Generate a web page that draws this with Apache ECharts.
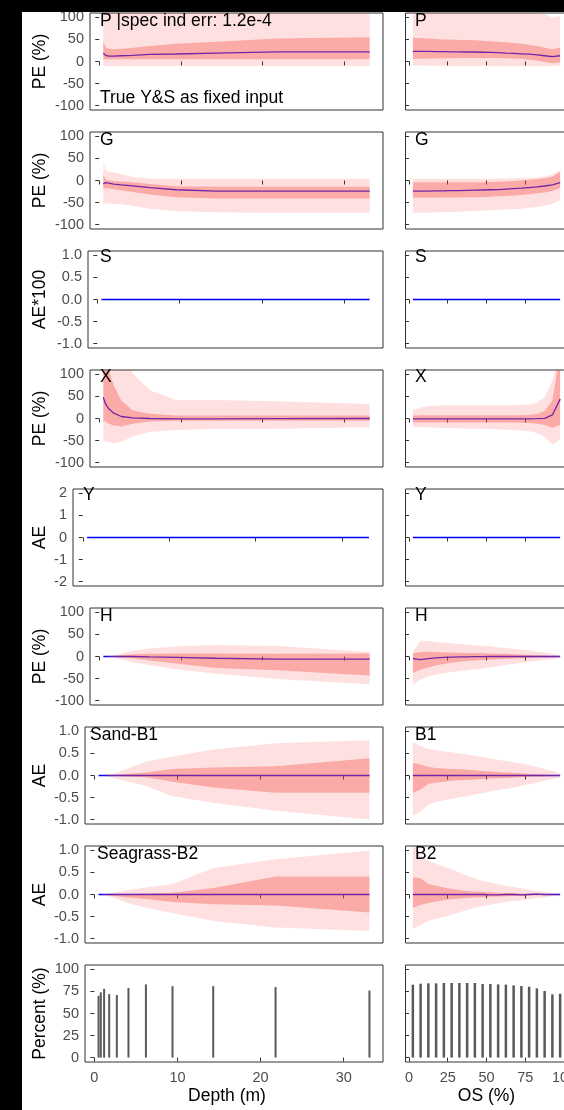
<!DOCTYPE html>
<html>
<head>
<meta charset="utf-8">
<script src="https://cdn.jsdelivr.net/npm/echarts@6.0.0/dist/echarts.min.js"></script>
<style>
html, body { margin: 0; padding: 0; background: #000; }
#main { position: absolute; left: 22px; top: 12px; width: 542px; height: 1098px; background: #fff; }
</style>
</head>
<body>
<div id="main"></div>
<script>
// x positions
var depth = [0.5, 0.77, 1.17, 1.78, 2.7, 4.1, 6.2, 9.4, 14.3, 21.8, 33.1];
var os = [2.5, 7.5, 12.5, 17.5, 22.5, 27.5, 32.5, 37.5, 42.5, 47.5, 52.5, 57.5, 62.5, 67.5, 72.5, 77.5, 82.5, 87.5, 92.5, 97.5];

// P
var pDMean = [19, 14, 12, 12, 13, 14, 16, 17, 19, 22, 22];
var pDLo50 = [6, 5, 5, 5, 5, 5, 5, 5, 5, 5, 5];
var pDHi50 = [47, 33, 29, 28, 29, 31, 35, 40, 45, 52, 55];
var pDLo95 = [-9, -10, -10, -10, -10, -10, -10, -10, -10, -10, -10];
var pDHi95 = [150, 150, 150, 150, 150, 150, 150, 150, 150, 150, 150];
var pOMean = [23, 23, 23, 22.5, 22.5, 22, 22, 21.5, 21.5, 21, 20.5, 20, 19, 18.5, 17.5, 16.5, 15, 13, 11, 13];
var pOLo50 = [6, 6.5, 7, 7, 7.5, 7.5, 8, 8, 8, 8, 8, 8, 7.5, 7, 6, 4, 2, -1, -4, -2];
var pOHi50 = [54, 53, 52, 51, 50, 50, 49, 48.5, 48, 47, 46, 45, 43.5, 42, 40, 38, 35, 31, 28, 32];
var pOLo95 = [-9, -9, -9.5, -9.5, -10, -10, -10, -10, -10, -10, -10.5, -10.5, -11, -11, -11, -11, -11, -11, -10, -9];
var pOHi95 = [130, 130, 130, 128, 127, 126, 125, 124, 123, 122, 120, 118, 116, 114, 112, 111, 110, 108, 99, 104];

// G
var gDMean = [-7.5, -5, -6, -8, -10, -12, -16, -21, -24, -24, -24];
var gDLo50 = [-21, -17, -18, -20, -22, -26, -32, -38, -41, -41, -41];
var gDHi50 = [15, 2, 0, -1, -2, -4, -8, -13, -14, -14, -14];
var gDLo95 = [-55, -52, -52, -53, -54, -57, -64, -70, -72, -73, -73];
var gDHi95 = [45, 23, 19, 18, 15, 8, 4, 4, 4, 4, 4];
var gOMean = [-24, -24, -24, -23.5, -23.5, -23, -23, -22.5, -22, -21.5, -21, -20.5, -19.5, -18.5, -17.5, -16, -14.5, -12.5, -10, -5];
var gOLo50 = [-39, -39, -39, -39, -38.5, -38.5, -38.5, -38, -38, -38, -37, -36, -35, -34, -33, -31, -29, -27, -24, -17];
var gOHi50 = [-4, -4, -4, -4, -4, -4, -4, -4, -4, -4, -3.5, -3, -2, -1, 0, 1.5, 3, 5, 9, 19];
var gOLo95 = [-73, -73, -72.5, -72, -72, -71.5, -71, -70, -69, -68, -67.5, -67, -66, -65, -64, -62, -60, -57, -53, -45];
var gOHi95 = [4, 4, 4, 4, 4, 4, 4, 4, 4, 4, 4, 4.5, 4.5, 5, 5, 6, 7, 9, 13, 23];

// S
var sDMean = [0, 0, 0, 0, 0, 0, 0, 0, 0, 0, 0];
var sOMean = [0, 0, 0, 0, 0, 0, 0, 0, 0, 0, 0, 0, 0, 0, 0, 0, 0, 0, 0, 0];

// X
var xDMean = [48, 33, 22, 12, 4.5, 1.5, 0, -1, -1, -0.5, 0];
var xDLo50 = [-7, -7, -12, -16, -18, -12, -7, -5, -5, -5, -5];
var xDHi50 = [150, 150, 110, 75, 41, 18, 10.6, 7, 7, 7, 7];
var xDLo95 = [-53, -52, -53, -56, -53, -41, -30, -26, -24, -23, -20];
var xDHi95 = [200, 200, 200, 200, 160, 102, 64, 42, 42, 39, 33];
var xOMean = [-1, -1, -1, -1, -1, -1, -1, -1, -1, -1, -1, -1, -1, -1, -1, -1, -0.5, 0.5, 8, 44];
var xOLo50 = [-9, -9, -9, -9, -9, -9, -9, -9, -9, -9, -9, -9, -9, -9, -9.5, -10, -12, -15, -21, -15];
var xOHi50 = [7, 7.5, 7.5, 7.5, 7.5, 7.5, 7.5, 7.5, 7.5, 7.5, 7.5, 7.5, 7.5, 7.5, 7.5, 8, 10, 17, 41, 150];
var xOLo95 = [-19, -20, -20.5, -21, -21, -21.5, -22, -22.5, -23, -23.5, -24, -25, -25.5, -26, -27, -29, -33, -42, -59, -48];
var xOHi95 = [19, 25, 28, 29, 30, 30, 30, 30, 30, 30, 30, 30, 30, 30, 31, 32, 36, 48, 86, 150];

// Y
var yDMean = [0, 0, 0, 0, 0, 0, 0, 0, 0, 0, 0];
var yOMean = [0, 0, 0, 0, 0, 0, 0, 0, 0, 0, 0, 0, 0, 0, 0, 0, 0, 0, 0, 0];

// H
var hDMean = [0, 0, 0, 0, 0, 0, -1, -2, -4, -6, -6];
var hDLo50 = [0, 0, -0.5, -1, -2, -4, -9, -16, -26, -31, -43];
var hDHi50 = [0, 0, 0.5, 1, 3, 5, 6, 7, 7, 6, 7];
var hDLo95 = [0, 0, -1, -3, -7, -13, -20, -29, -39, -51, -63];
var hDHi95 = [0, 0, 1, 3, 7, 13, 18, 23, 26, 24, 10];
var hOMean = [-5, -7, -5, -3, -2, -1.5, -1, -1, -0.5, -0.5, 0, 0, 0, 0, 0, 0, 0, 0, 0, 0];
var hOLo50 = [-37, -30, -25, -20, -17, -14, -12, -10, -9, -8, -7, -6, -5, -4.5, -4, -3, -2.5, -2, -1.5, -1];
var hOHi50 = [7, 10, 11, 10, 9, 9, 8.5, 8, 8, 7.5, 7, 6.5, 6, 5, 4.5, 4, 3, 2.5, 1.5, 1];
var hOLo95 = [-64, -52, -45, -41, -38, -35, -33, -31, -29, -27, -25, -22, -19, -17, -14, -12, -10, -8, -6, -4];
var hOHi95 = [11, 36, 35, 33, 31, 30, 28, 27, 25, 24, 23, 21, 19, 17, 16, 14, 11, 9, 6, 3];

// B1
var b1DMean = [0, 0, 0, 0, 0, 0, 0, 0, 0, 0, 0];
var b1DLo50 = [0, 0, 0, -0.01, -0.01, -0.02, -0.04, -0.14, -0.27, -0.39, -0.39];
var b1DHi50 = [0, 0, 0, 0.01, 0.01, 0.04, 0.07, 0.15, 0.18, 0.21, 0.39];
var b1DLo95 = [0, 0, -0.01, -0.03, -0.08, -0.14, -0.24, -0.47, -0.62, -0.8, -1.0];
var b1DHi95 = [0, 0, 0.01, 0.03, 0.06, 0.17, 0.31, 0.43, 0.59, 0.73, 0.8];
var b1OMean = [0, 0, 0, 0, 0, 0, 0, 0, 0, 0, 0, 0, 0, 0, 0, 0, 0, 0, 0, 0];
var b1OLo50 = [-0.39, -0.32, -0.19, -0.16, -0.14, -0.12, -0.11, -0.1, -0.09, -0.08, -0.07, -0.06, -0.055, -0.05, -0.04, -0.03, -0.025, -0.02, -0.01, -0.01];
var b1OHi50 = [0.29, 0.25, 0.19, 0.17, 0.16, 0.15, 0.14, 0.13, 0.12, 0.1, 0.09, 0.08, 0.07, 0.06, 0.05, 0.04, 0.03, 0.02, 0.01, 0.01];
var b1OLo95 = [-0.92, -0.81, -0.66, -0.6, -0.56, -0.53, -0.5, -0.47, -0.43, -0.4, -0.36, -0.33, -0.3, -0.27, -0.24, -0.2, -0.16, -0.12, -0.08, -0.05];
var b1OHi95 = [0.76, 0.67, 0.6, 0.57, 0.55, 0.53, 0.5, 0.48, 0.45, 0.42, 0.39, 0.36, 0.33, 0.3, 0.28, 0.24, 0.2, 0.15, 0.1, 0.04];

// B2
var b2DMean = [0, 0, 0, 0, 0, 0, 0, 0, 0, 0, 0];
var b2DLo50 = [0, 0, -0.01, -0.02, -0.04, -0.07, -0.1, -0.17, -0.22, -0.25, -0.41];
var b2DHi50 = [0, 0, 0, 0.005, 0.01, 0.01, 0.02, 0.04, 0.15, 0.41, 0.41];
var b2DLo95 = [0, -0.01, -0.02, -0.04, -0.1, -0.2, -0.3, -0.42, -0.6, -0.75, -0.83];
var b2DHi95 = [0, 0, 0.01, 0.02, 0.05, 0.1, 0.16, 0.24, 0.6, 0.8, 1.0];
var b2OMean = [0, 0, 0, 0, 0, 0, 0, 0, 0, 0, -0.01, -0.01, 0, 0, -0.01, 0, 0.01, 0, 0, 0];
var b2OLo50 = [-0.3, -0.24, -0.19, -0.16, -0.13, -0.11, -0.09, -0.08, -0.07, -0.06, -0.05, -0.045, -0.04, -0.035, -0.03, -0.025, -0.02, -0.015, -0.01, -0.01];
var b2OHi50 = [0.39, 0.37, 0.24, 0.2, 0.16, 0.13, 0.1, 0.08, 0.07, 0.06, 0.05, 0.04, 0.035, 0.03, 0.025, 0.02, 0.015, 0.01, 0.005, 0];
var b2OLo95 = [-0.79, -0.69, -0.6, -0.55, -0.51, -0.46, -0.4, -0.35, -0.3, -0.26, -0.23, -0.2, -0.17, -0.15, -0.13, -0.1, -0.08, -0.06, -0.04, -0.02];
var b2OHi95 = [1.15, 0.9, 0.76, 0.7, 0.63, 0.57, 0.5, 0.43, 0.37, 0.31, 0.27, 0.24, 0.2, 0.17, 0.14, 0.11, 0.08, 0.06, 0.04, 0.02];

// Percent of samples
var depthPct = [70, 74, 78, 72, 71, 79, 83, 81, 81, 80, 76];
var osPct = [82.7, 83.8, 84.2, 84.2, 84.6, 84.6, 84.6, 84.6, 84.6, 83.4, 83.4, 83.0, 82.7, 81.9, 81.2, 80.4, 78.5, 75.5, 71.7, 72.4];

// tick labels
var peTicks = [-100, -50, 0, 50, 100];
var aeTicks = [-1, -0.5, 0, 0.5, 1];
var yTicks = [-2, -1, 0, 1, 2];
var pctTicks = [0, 25, 50, 75, 100];
var depthTicks = [0, 10, 20, 30];
var osTicks = [0, 25, 50, 75, 100];

var rowTitles = ['PE (%)', 'PE (%)', 'AE*100', 'PE (%)', 'AE', 'PE (%)', 'AE', 'AE', 'Percent (%)'];
var leftNames = ['P |spec ind err: 1.2e-4', 'G', 'S', 'X', 'Y', 'H', 'Sand-B1', 'Seagrass-B2'];
var rightNames = ['P', 'G', 'S', 'X', 'Y', 'H', 'B1', 'B2'];

// layout
var FONT = 'Liberation Sans';
var BORDER = '#333333';
var LIGHT = 'rgba(255, 0, 0, 0.12)';
var DARK = 'rgba(245, 90, 80, 0.4)';
var LINE = '#0000ff';
var rowLeft = [90, 90, 88, 90, 73, 90, 85, 85, 85];
var rowY = [
    {min: -110, max: 110, ticks: peTicks, dec: 0},
    {min: -110, max: 110, ticks: peTicks, dec: 0},
    {min: -1.1, max: 1.1, ticks: aeTicks, dec: 1},
    {min: -110, max: 110, ticks: peTicks, dec: 0},
    {min: -2.2, max: 2.2, ticks: yTicks, dec: 0},
    {min: -110, max: 110, ticks: peTicks, dec: 0},
    {min: -1.1, max: 1.1, ticks: aeTicks, dec: 1},
    {min: -1.1, max: 1.1, ticks: aeTicks, dec: 1},
    {min: -5, max: 105, ticks: pctTicks, dec: 0}
];
var nameDy = [8, 8, 6, 7, 6, 8, 8, 8];
var nameX = [78, 78, 78, 78, 61, 78, 68, 75];
var BOX_H = 97;
function rowTop(r) { return 1 + 119 * r; }

var grids = [], xAxes = [], yAxes = [], series = [], graphics = [];

function pairs(xs, ys) {
    return xs.map(function (x, i) { return [x, ys[i]]; });
}

function addPanel(r, c) {
    var gi = grids.length;
    var isLeft = c === 0;
    var ry = rowY[r];
    grids.push({
        left: isLeft ? rowLeft[r] - 22 : 383.5,
        top: rowTop(r),
        width: isLeft ? 383 - rowLeft[r] : 162,
        height: BOX_H,
        show: true,
        borderColor: BORDER,
        borderWidth: 1,
        backgroundColor: 'transparent',
        containLabel: false,
        outerBoundsMode: 'none'
    });
    xAxes.push({
        gridIndex: gi,
        type: 'value',
        min: isLeft ? -1.13 : -2.25,
        max: isLeft ? 34.73 : 102.25,
        axisLine: {show: false},
        splitLine: {show: false},
        axisTick: {show: true, length: 4, lineStyle: {color: BORDER}, customValues: isLeft ? depthTicks : osTicks},
        axisLabel: {show: r === 8, customValues: isLeft ? depthTicks : osTicks, color: '#4d4d4d', fontSize: 14.5, fontFamily: FONT, margin: 8}
    });
    yAxes.push({
        gridIndex: gi,
        type: 'value',
        min: ry.min,
        max: ry.max,
        axisLine: {show: false},
        splitLine: {show: false},
        axisTick: {show: true, length: 4, lineStyle: {color: BORDER}, customValues: ry.ticks},
        axisLabel: {
            show: isLeft,
            customValues: ry.ticks,
            color: '#4d4d4d', fontSize: 14.5, fontFamily: FONT, margin: 6,
            formatter: function (v) { return Number(v).toFixed(ry.dec); }
        }
    });
    return gi;
}

function meanLine(gi, xs, ys) {
    series.push({
        type: 'line', xAxisIndex: gi, yAxisIndex: gi, data: pairs(xs, ys), z: 1,
        symbol: 'none', silent: true, lineStyle: {color: LINE, width: 1.3}
    });
}

// ribbon between lo and hi, drawn as one polygon through the axes' scales
function band(gi, xs, lo, hi, color) {
    series.push({
        type: 'custom', xAxisIndex: gi, yAxisIndex: gi, silent: true, clip: true, z: 3,
        data: xs.map(function (x, i) { return [x, lo[i], hi[i]]; }),
        encode: {x: 0, y: [1, 2]},
        renderItem: function (params, api) {
            if (params.dataIndex !== 0) return;
            var pts = [], i;
            for (i = 0; i < xs.length; i++) pts.push(api.coord([xs[i], hi[i]]));
            for (i = xs.length - 1; i >= 0; i--) pts.push(api.coord([xs[i], lo[i]]));
            var cs = params.coordSys;
            return {
                type: 'polygon',
                shape: {points: pts},
                style: {fill: color},
                clipPath: {type: 'rect', shape: {x: cs.x, y: cs.y, width: cs.width, height: cs.height}}
            };
        }
    });
}

function bandPanel(r, c, xs, mean, lo95, hi95, lo50, hi50) {
    var gi = addPanel(r, c);
    meanLine(gi, xs, mean);
    band(gi, xs, lo95, hi95, LIGHT);
    band(gi, xs, lo50, hi50, DARK);
}

function linePanel(r, c, xs, mean) {
    var gi = addPanel(r, c);
    meanLine(gi, xs, mean);
}

function barPanel(r, c, xs, ys, w) {
    var gi = addPanel(r, c);
    series.push({
        type: 'bar', xAxisIndex: gi, yAxisIndex: gi, data: pairs(xs, ys),
        barWidth: w, silent: true, itemStyle: {color: '#595959'}
    });
}

bandPanel(0, 0, depth, pDMean, pDLo95, pDHi95, pDLo50, pDHi50);
bandPanel(0, 1, os, pOMean, pOLo95, pOHi95, pOLo50, pOHi50);
bandPanel(1, 0, depth, gDMean, gDLo95, gDHi95, gDLo50, gDHi50);
bandPanel(1, 1, os, gOMean, gOLo95, gOHi95, gOLo50, gOHi50);
linePanel(2, 0, depth, sDMean);
linePanel(2, 1, os, sOMean);
bandPanel(3, 0, depth, xDMean, xDLo95, xDHi95, xDLo50, xDHi50);
bandPanel(3, 1, os, xOMean, xOLo95, xOHi95, xOLo50, xOHi50);
linePanel(4, 0, depth, yDMean);
linePanel(4, 1, os, yOMean);
bandPanel(5, 0, depth, hDMean, hDLo95, hDHi95, hDLo50, hDHi50);
bandPanel(5, 1, os, hOMean, hOLo95, hOHi95, hOLo50, hOHi50);
bandPanel(6, 0, depth, b1DMean, b1DLo95, b1DHi95, b1DLo50, b1DHi50);
bandPanel(6, 1, os, b1OMean, b1OLo95, b1OHi95, b1OLo50, b1OHi50);
bandPanel(7, 0, depth, b2DMean, b2DLo95, b2DHi95, b2DLo50, b2DHi50);
bandPanel(7, 1, os, b2OMean, b2OLo95, b2OHi95, b2OLo50, b2OHi50);
barPanel(8, 0, depth, depthPct, 2);
barPanel(8, 1, os, osPct, 2.5);

// texts
function txt(s, x, y, size, color, align, rot) {
    graphics.push({
        type: 'text', x: x, y: y, rotation: rot || 0, silent: true, z: 100,
        style: {text: s, fill: color, font: size + 'px "' + FONT + '"', textAlign: align, textVerticalAlign: 'middle'}
    });
}
for (var r = 0; r < 8; r++) {
    txt(leftNames[r], nameX[r], rowTop(r) + nameDy[r], 17.5, '#000', 'left');
    txt(rightNames[r], 393, rowTop(r) + nameDy[r], 17.5, '#000', 'left');
}
txt('True Y&S as fixed input', 78, 86.3, 17.5, '#000', 'left');
for (var r2 = 0; r2 < 9; r2++) {
    txt(rowTitles[r2], 18, rowTop(r2) + BOX_H / 2, 17.5, '#000', 'center', Math.PI / 2);
}
txt('Depth (m)', 205, 1084, 17.5, '#000', 'center');
txt('OS (%)', 464.5, 1084.5, 17.5, '#000', 'center');

var option = {
    animation: false,
    textStyle: {fontFamily: FONT},
    grid: grids,
    xAxis: xAxes,
    yAxis: yAxes,
    series: series,
    graphic: graphics
};

var myChart = echarts.init(document.getElementById('main'));
option && myChart.setOption(option);
</script>
</body>
</html>
